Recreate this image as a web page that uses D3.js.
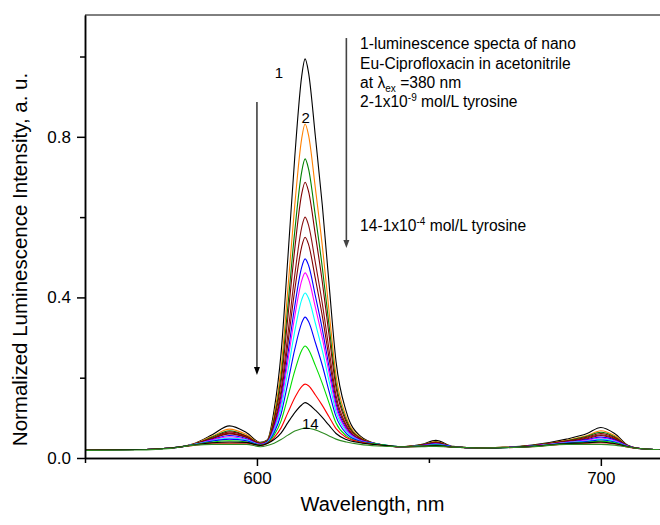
<!DOCTYPE html>
<html>
<head>
<meta charset="utf-8">
<script src="https://cdn.jsdelivr.net/npm/d3@7"></script>
<style>
  body { margin: 0; background: #fff; }
  svg { display: block; font-family: Arial, "Liberation Sans", sans-serif; }
</style>
</head>
<body>
<div id="chart"></div>
<script>
// wavelength grid (nm) shared by all spectra
const wavelength = [550, 565, 575, 582, 587, 592, 597, 601,
  603, 605, 607, 609, 611, 613, 614, 615, 617, 619, 621, 623, 626, 630, 635,
  642, 648, 652, 657, 665, 680, 690, 696, 700, 704, 708, 712, 717];

// normalized intensities, curve 1 (no tyrosine) .. curve 14 (1e-4 mol/L)
const s1 = [.020,.021,.025,.037,.058,.080,.063,.039, .045,.120,.260,.500,.750,.950,.994,.960,.800,.630,.430,.240,.115,.055,.035, .028,.034,.044,.029,.025,.032,.047,.061,.076,.061,.031,.023,.021];
const s2 = [.020,.021,.025,.036,.054,.072,.058,.038, .043,.106,.222,.422,.630,.795,.832,.804,.671,.529,.363,.206,.101,.052,.035, .028,.033,.041,.028,.025,.031,.044,.056,.068,.056,.030,.023,.021];
const s3 = [.020,.021,.025,.035,.052,.068,.055,.037, .042,.098,.202,.379,.565,.712,.745,.720,.602,.475,.328,.187,.094,.050,.035, .028,.033,.040,.028,.025,.031,.043,.054,.064,.053,.030,.023,.021];
const s4 = [.020,.021,.025,.035,.050,.065,.054,.036, .042,.093,.188,.351,.521,.657,.687,.664,.555,.439,.304,.175,.089,.049,.035, .028,.032,.039,.028,.025,.031,.042,.052,.061,.051,.030,.023,.021];
const s5 = [.020,.021,.025,.035,.049,.062,.052,.036, .041,.085,.168,.309,.456,.574,.600,.580,.486,.385,.268,.156,.082,.047,.035, .028,.032,.038,.028,.025,.030,.041,.050,.058,.049,.029,.023,.021];
const s6 = [.020,.021,.025,.035,.048,.060,.051,.035, .040,.081,.156,.285,.419,.526,.550,.532,.446,.354,.247,.145,.078,.046,.035, .028,.032,.037,.028,.025,.030,.041,.048,.056,.047,.029,.023,.021];
const s7 = [.020,.021,.025,.034,.046,.056,.048,.034, .040,.076,.143,.259,.379,.475,.496,.480,.403,.321,.225,.134,.073,.045,.035, .028,.031,.036,.028,.025,.030,.039,.046,.052,.045,.029,.023,.021];
const s8 = [.020,.021,.025,.034,.045,.053,.046,.034, .039,.073,.135,.242,.353,.441,.461,.446,.375,.299,.211,.126,.070,.044,.035, .028,.031,.035,.028,.025,.030,.039,.044,.050,.043,.029,.023,.021];
const s9 = [.020,.021,.025,.034,.043,.050,.045,.033, .039,.068,.123,.217,.316,.394,.411,.398,.335,.268,.190,.115,.066,.043,.035, .028,.030,.034,.028,.025,.029,.038,.042,.047,.041,.028,.023,.021];
const s10 = [.020,.021,.025,.033,.042,.047,.043,.033, .038,.063,.109,.188,.271,.336,.351,.340,.287,.231,.165,.103,.061,.042,.035, .028,.030,.033,.028,.025,.029,.037,.041,.045,.040,.028,.023,.021];
const s11 = [.020,.021,.025,.033,.040,.043,.040,.032, .037,.057,.092,.153,.217,.268,.279,.270,.230,.186,.136,.087,.055,.040,.035, .028,.030,.032,.027,.025,.029,.036,.039,.042,.038,.028,.023,.021];
const s12 = [.020,.021,.025,.032,.037,.037,.037,.031, .036,.051,.075,.113,.150,.178,.184,.180,.157,.131,.102,.073,.051,.040,.033, .028,.029,.030,.027,.025,.028,.035,.037,.038,.035,.027,.023,.021];
const s13 = [.020,.021,.025,.033,.038,.040,.039,.031, .036,.046,.062,.088,.113,.132,.138,.134,.119,.101,.081,.061,.046,.038,.033, .028,.029,.031,.027,.025,.029,.036,.038,.040,.036,.028,.023,.021];
const s14 = [.019,.020,.024,.032,.034,.034,.034,.028, .031,.037,.046,.057,.067,.073,.075,.074,.070,.063,.055,.047,.040,.034,.030, .028,.028,.029,.027,.025,.028,.034,.034,.034,.032,.027,.023,.021];

const spectra = [s1, s2, s3, s4, s5, s6, s7, s8, s9, s10, s11, s12, s13, s14];
const curveColors = ['#000000', '#ff8000', '#008000', '#800000', '#8b1010', '#800000', '#0000ff',
  '#ff00ff', '#00ffff', '#0000ff', '#00dd00', '#ff0000', '#000000', '#2e8b22'];

const xMajor = [600, 700];
const xMinor = [550, 650];
const yMajor = [0, 0.4, 0.8];
const yMinor = [0.2, 0.6, 1.0];

const width = 660, height = 525;
const plotLeft = 85, plotRight = 660, plotTop = 15, plotBottom = 458;

const svg = d3.select('#chart').append('svg')
  .attr('width', width)
  .attr('height', height);

svg.append('rect').attr('width', width).attr('height', height).attr('fill', '#fff');

const x = d3.scaleLinear().domain([550, 717.2]).range([plotLeft, plotRight]);
const y = d3.scaleLinear().domain([0, 1.1034]).range([plotBottom, plotTop]);

const line = d3.line()
  .x((d, i) => x(wavelength[i]))
  .y(d => y(d))
  .curve(d3.curveMonotoneX);

const plot = svg.append('g');
spectra.forEach((s, k) => {
  plot.append('path')
    .datum(s)
    .attr('fill', 'none')
    .attr('stroke', curveColors[k])
    .attr('stroke-width', 1.1)
    .attr('d', line);
});

// frame top
svg.append('line')
  .attr('x1', plotLeft).attr('x2', plotRight + 5)
  .attr('y1', plotTop).attr('y2', plotTop)
  .attr('stroke', '#000').attr('stroke-width', 1);

// axes
function styleAxis(g) {
  g.select('.domain').attr('stroke-width', 1.5);
  g.selectAll('.tick line').attr('stroke-width', 1.5);
  g.selectAll('text').attr('font-size', 17).attr('fill', '#000')
    .attr('font-family', 'Arial, "Liberation Sans", sans-serif');
}

svg.append('g')
  .attr('transform', `translate(0,${plotBottom})`)
  .call(d3.axisBottom(x).tickValues(xMinor).tickSize(5).tickSizeOuter(0).tickFormat(''))
  .call(styleAxis);
svg.append('g')
  .attr('transform', `translate(0,${plotBottom})`)
  .call(d3.axisBottom(x).tickValues(xMajor).tickSize(8).tickSizeOuter(0).tickPadding(6).tickFormat(d3.format('d')))
  .call(styleAxis);

svg.append('g')
  .attr('transform', `translate(${plotLeft},0)`)
  .call(d3.axisLeft(y).tickValues(yMinor).tickSize(5).tickSizeOuter(0).tickFormat(''))
  .call(styleAxis);
svg.append('g')
  .attr('transform', `translate(${plotLeft},0)`)
  .call(d3.axisLeft(y).tickValues(yMajor).tickSize(8).tickSizeOuter(0).tickPadding(6).tickFormat(d3.format('.1f')))
  .call(styleAxis);

// axis titles
svg.append('text')
  .attr('x', (plotLeft + plotRight) / 2).attr('y', 511)
  .attr('text-anchor', 'middle')
  .attr('font-size', 20)
  .text('Wavelength, nm');

svg.append('text')
  .attr('transform', `translate(27,${(plotTop + plotBottom) / 2 + 23}) rotate(-90)`)
  .attr('text-anchor', 'middle')
  .attr('font-size', 20.5)
  .text('Normalized Luminescence Intensity, a. u.');

// annotations (placed in data space)
function arrow(wl, v1, v2, color, w) {
  const ax = x(wl), ay1 = y(v1), ay2 = y(v2);
  svg.append('line')
    .attr('x1', ax).attr('x2', ax)
    .attr('y1', ay1).attr('y2', ay2 - 6)
    .attr('stroke', color).attr('stroke-width', w);
  svg.append('path')
    .attr('d', `M${ax - 3},${ay2 - 8}L${ax + 3},${ay2 - 8}L${ax},${ay2}Z`)
    .attr('fill', color);
}
arrow(600, 0.887, 0.207, '#000', 1.2);
arrow(626, 1.046, 0.523, '#444', 1.6);

const labels = [
  { t: '1', wl: 606.4, v: 0.946 },
  { t: '2', wl: 614.2, v: 0.834 },
  { t: '14', wl: 615.5, v: 0.072 }
];
labels.forEach(l => {
  svg.append('text')
    .attr('x', x(l.wl)).attr('y', y(l.v))
    .attr('text-anchor', 'middle')
    .attr('font-size', 15)
    .text(l.t);
});

const noteX = x(630);
const note = svg.append('g').attr('font-size', 15.6);
note.append('text').attr('x', noteX).attr('y', y(1.019)).text('1-luminescence specta of nano');
note.append('text').attr('x', noteX).attr('y', y(0.970)).text('Eu-Ciprofloxacin in acetonitrile');
const l3 = note.append('text').attr('x', noteX).attr('y', y(0.922));
l3.append('tspan').text('at λ');
l3.append('tspan').attr('font-size', 10).attr('dy', 4).text('ex');
l3.append('tspan').attr('dy', -4).text(' =380 nm');
const l4 = note.append('text').attr('x', noteX).attr('y', y(0.874));
l4.append('tspan').text('2-1x10');
l4.append('tspan').attr('font-size', 10).attr('dy', -6).text('-9');
l4.append('tspan').attr('dy', 6).text(' mol/L tyrosine');
const l5 = note.append('text').attr('x', noteX).attr('y', y(0.565));
l5.append('tspan').text('14-1x10');
l5.append('tspan').attr('font-size', 10).attr('dy', -6).text('-4');
l5.append('tspan').attr('dy', 6).text(' mol/L tyrosine');
</script>
</body>
</html>
